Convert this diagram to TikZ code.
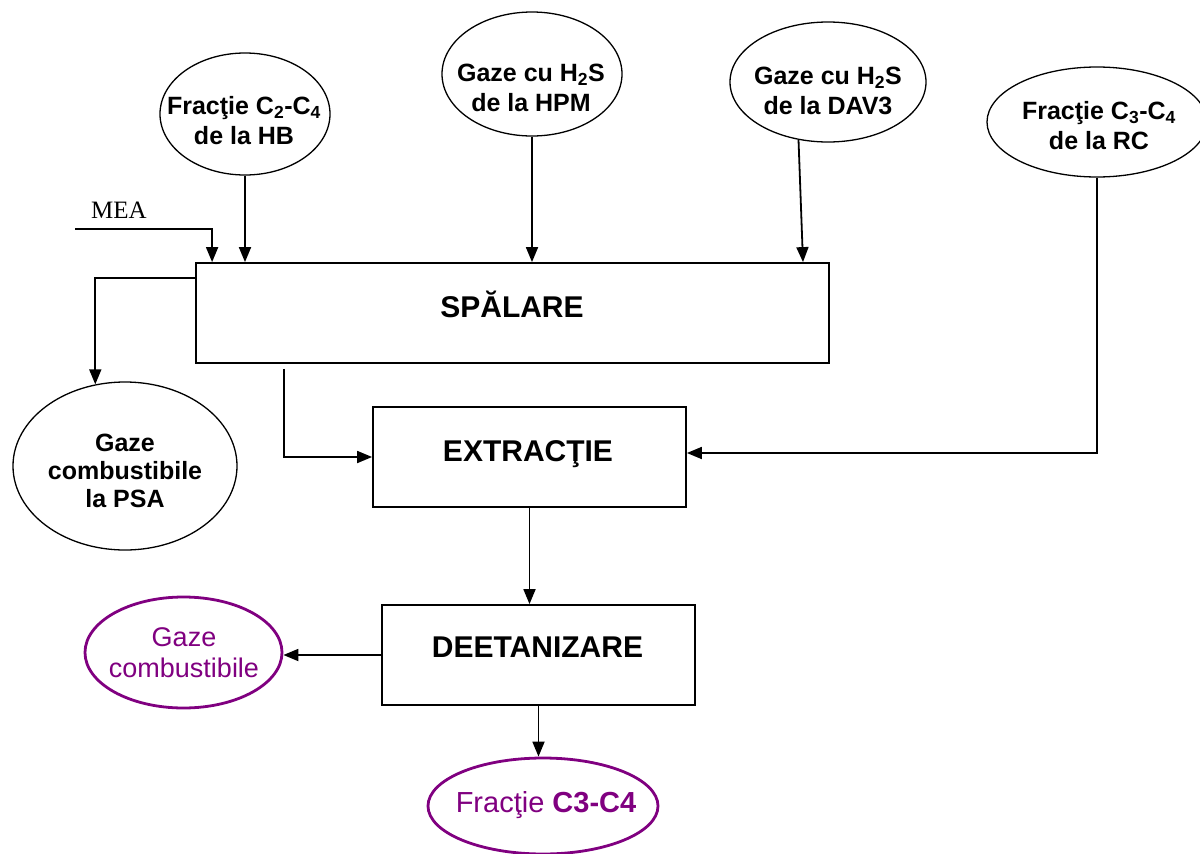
\documentclass[tikz,border=0pt]{standalone}
\usepackage{fontspec}
\setmainfont{Liberation Sans}
\newfontfamily\meafont{Liberation Serif}
\usetikzlibrary{shapes.geometric,arrows.meta}
\definecolor{flowpurple}{RGB}{128,0,128}
\newcommand{\subidx}[1]{\textsubscript{#1}}
\begin{document}
\begin{tikzpicture}[x=1pt,y=-1pt,
  flowline/.style={line width=1.8pt, draw=black},
  arr/.style={flowline, -{Triangle[length=15pt,width=12pt]}},
  srcell/.style={ellipse, draw, line width=1.3pt, inner sep=0pt},
  endell/.style={ellipse, draw=flowpurple, line width=2.8pt, inner sep=0pt},
  stagebox/.style={draw, line width=1.8pt, inner sep=0pt},
  srctext/.style={align=center, inner sep=0pt, font=\fontsize{25}{30}\selectfont\bfseries},
  stagetext/.style={anchor=base, inner sep=0pt, font=\fontsize{30}{36}\selectfont\bfseries},
  endtext/.style={align=center, inner sep=0pt, text=flowpurple},
]
\useasboundingbox (0,0) rectangle (1200,854);

% feed streams
\node[srcell, minimum width=170pt, minimum height=122pt] (hb) at (245,114) {};
\node[srctext] (hbt) at (244,121) {Fracţie C\subidx{2}-C\subidx{4}\\de la HB};
\node[srcell, minimum width=180pt, minimum height=124pt] (hpm) at (532,74) {};
\node[srctext] (hpmt) at (531,88) {Gaze cu H\subidx{2}S\\de la HPM};
\node[srcell, minimum width=196pt, minimum height=120pt] (dav) at (828,82) {};
\node[srctext] (davt) at (828,91) {Gaze cu H\subidx{2}S\\de la DAV3};
\node[srcell, minimum width=220pt, minimum height=110pt] (rc) at (1097,122) {};
\node[srctext] (rct) at (1099,126) {Fracţie C\subidx{3}-C\subidx{4}\\de la RC};

% process stages
\node[stagebox, minimum width=633pt, minimum height=100pt] (spal) at (512.5,313) {};
\node[stagetext] (spalt) at (512,317) {SPĂLARE};
\node[stagebox, minimum width=313pt, minimum height=100pt] (extr) at (529.5,457) {};
\node[stagetext] (extrt) at (528,461) {EXTRACŢIE};
\node[stagebox, minimum width=313pt, minimum height=100pt] (deet) at (538.5,655) {};
\node[stagetext] (deett) at (537.5,657) {DEETANIZARE};

% products
\node[srcell, minimum width=224pt, minimum height=168pt] (psa) at (125,466) {};
\node[srctext, font=\fontsize{25}{28}\selectfont\bfseries] (psat) at (125,471) {Gaze\\combustibile\\la PSA};
\node[endell, minimum width=197pt, minimum height=111pt] (gc) at (183.5,652.5) {};
\node[endtext, font=\fontsize{27}{31}\selectfont] (gct) at (184,653) {Gaze\\combustibile};
\node[endell, minimum width=230pt, minimum height=96pt] (fr) at (543,806) {};
\node[endtext, anchor=base, font=\fontsize{29}{34}\selectfont] (frt) at (546,812) {Fracţie \textbf{C3-C4}};

% MEA feed
\node[anchor=base, inner sep=0pt, font=\meafont\fontsize{25}{30}\selectfont] (mea) at (119,218) {MEA};
\coordinate (meain) at (75,229);

% connectors
\draw[arr] (meain) -| ([xshift=17pt]spal.north west);
\draw[arr] (hb.south) -- (hb.south |- spal.north);
\draw[arr] (hpm.south) -- (hpm.south |- spal.north);
\draw[arr] (dav.243) -- ([xshift=290.5pt]spal.north);
\draw[arr] ([yshift=-16pt]spal.north west) -| (psa.110);
\draw[arr] ([xshift=89pt,yshift=-5pt]spal.south west) |- (extr.west);
\draw[arr] (rc.south) |- ([yshift=4pt]extr.east);
\draw[arr] (extr.south) -- (extr.south |- deet.north);
\draw[arr] (deet.west) -- (deet.west -| gc.east);
\draw[arr] (deet.south) -- (deet.south |- fr.north);
\end{tikzpicture}
\end{document}
